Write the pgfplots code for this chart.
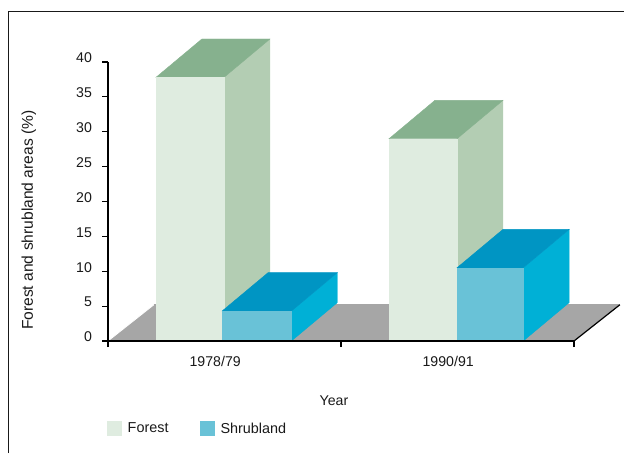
\documentclass[border=0pt]{standalone}
\usepackage{fontspec}
\setmainfont{Liberation Sans}
\usepackage{pgfplots}
\pgfplotsset{compat=1.18}

\definecolor{forestfront}{HTML}{DFECE0}
\definecolor{forestside}{HTML}{B3CDB3}
\definecolor{foresttop}{HTML}{86B18E}
\definecolor{shrubfront}{HTML}{69C2D7}
\definecolor{shrubside}{HTML}{00B0D6}
\definecolor{shrubtop}{HTML}{0095C3}
\definecolor{floorgrey}{HTML}{A6A6A6}

\pgfplotsset{
  face/.style={forget plot, fill=#1, draw=#1, line width=0.3pt},
}

\begin{document}
\begin{tikzpicture}
  % page box and the ruled frame open to the right and bottom
  \path[use as bounding box] (0,0) rectangle (468pt,339.75pt);
  \draw[black!90, line width=0.9pt] (6.375pt,0pt) |- (468pt,331.1pt);

  \begin{axis}[
    at={(81pt,84pt)}, anchor=south west,
    scale only axis, width=349.5pt, height=209.25pt,
    xmin=0, xmax=2, ymin=0, ymax=40,
    clip=false,
    axis on top,
    axis x line=bottom, axis y line=left,
    axis line style={-, black, line width=0.9pt},
    every tick/.style={black, line width=0.8pt},
    tick align=outside,
    major tick length=4.5pt,
    xtick={0,1,2}, xticklabels={},
    extra x ticks={0.46,1.46},
    extra x tick labels={1978/79,1990/91},
    extra x tick style={major tick length=0pt, xticklabel style={yshift=-8pt}},
    ytick={0,5,...,40},
    yticklabel style={yshift=3pt, xshift=-4pt},
    tick label style={font=\fontsize{10.6}{12}\selectfont, /pgf/number format/assume math mode=true, text=black!90},
    label style={font=\fontsize{10.6}{12}\selectfont, text=black!90},
    xlabel={Year}, ylabel={Forest and shrubland areas (\%)},
    xlabel style={at={(axis description cs:0.485,-0.215)}, anchor=center},
    ylabel style={at={(axis description cs:-0.17,0.433)}, anchor=center, font=\fontsize{11.7}{13}\selectfont},
    legend style={at={(axis description cs:-0.002,-0.315)}, anchor=west, draw=none, fill=none,
      legend cell align=left, legend columns=2, inner sep=0pt, outer sep=0pt,
      font=\fontsize{10.8}{12}\selectfont, text=black!90,
      /tikz/every odd column/.style={column sep=2.5pt},
      /tikz/every even column/.style={column sep=21.5pt}},
    legend image code/.code={\fill[#1, draw=none] (0pt,-5.6pt) rectangle (11pt,5.6pt);},
  ]
    % ground plane receding behind the axis
    \addplot[forget plot, fill=floorgrey, draw=none] coordinates {(0,0) (0.197,5.2) (2.197,5.2) (2,0)} -- cycle;
    \addplot[forget plot, white, line width=0.6pt] coordinates {(0,0) (0.197,5.2)};
    \addplot[forget plot, black!35, line width=0.5pt] coordinates {(0.197,5.3) (2.197,5.3)};
    \addplot[forget plot, black, line width=0.9pt] coordinates {(2,0) (2.197,5.2)};

    % 1978/79 forest: value 37.8
    \addplot[face=forestside] coordinates {(0.498,0) (0.498,37.8) (0.695,43.3) (0.695,5.5)} -- cycle;
    \addplot[face=foresttop] coordinates {(0.206,37.8) (0.498,37.8) (0.695,43.3) (0.403,43.3)} -- cycle;
    \addplot[face=forestfront] coordinates {(0.206,0) (0.498,0) (0.498,37.8) (0.206,37.8)} -- cycle;
    % 1978/79 shrubland: value 4.3
    \addplot[face=shrubside] coordinates {(0.787,0) (0.787,4.3) (0.984,9.8) (0.984,5.5)} -- cycle;
    \addplot[face=shrubtop] coordinates {(0.49,4.3) (0.787,4.3) (0.984,9.8) (0.687,9.8)} -- cycle;
    \addplot[face=shrubfront] coordinates {(0.49,0) (0.787,0) (0.787,4.3) (0.49,4.3)} -- cycle;

    % 1990/91 forest: value 29
    \addplot[face=forestside] coordinates {(1.498,0) (1.498,29) (1.695,34.5) (1.695,5.5)} -- cycle;
    \addplot[face=foresttop] coordinates {(1.206,29) (1.498,29) (1.695,34.5) (1.403,34.5)} -- cycle;
    \addplot[face=forestfront] coordinates {(1.206,0) (1.498,0) (1.498,29) (1.206,29)} -- cycle;
    % 1990/91 shrubland: value 10.5
    \addplot[face=shrubside] coordinates {(1.782,0) (1.782,10.5) (1.979,16) (1.979,5.5)} -- cycle;
    \addplot[face=shrubtop] coordinates {(1.498,10.5) (1.782,10.5) (1.979,16) (1.695,16)} -- cycle;
    \addplot[face=shrubfront] coordinates {(1.498,0) (1.782,0) (1.782,10.5) (1.498,10.5)} -- cycle;

    \addlegendimage{fill=forestfront}
    \addlegendentry{Forest}
    \addlegendimage{fill=shrubfront}
    \addlegendentry{Shrubland}
  \end{axis}
\end{tikzpicture}
\end{document}
